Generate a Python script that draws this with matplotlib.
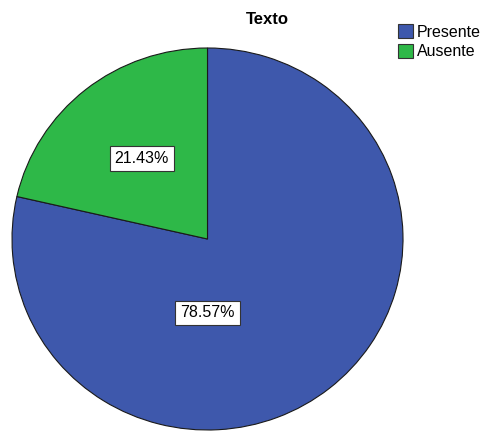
import matplotlib
matplotlib.use("Agg")
import matplotlib.pyplot as plt
from matplotlib.patches import Patch

plt.rcParams['font.family'] = ['Liberation Sans', 'DejaVu Sans']

categories = ["Presente", "Ausente"]
values = [78.57, 21.43]
colors = ["#3E58AC", "#2EB848"]
title = "Texto"

fig = plt.figure(figsize=(4.8, 4.32), dpi=100)
ax = fig.add_axes([12/480, 2/432, 391/480, 382/432])

wedges, texts, autotexts = ax.pie(
    values, colors=colors, startangle=90, counterclock=False,
    autopct=lambda p: f"{p:.2f}%", pctdistance=0.54,
    wedgeprops=dict(edgecolor="#1a1a1a", linewidth=0.8),
    textprops=dict(fontsize=11.5, color="black"),
)
for t in autotexts:
    t.set_bbox(dict(boxstyle="square,pad=0.3", facecolor="white",
                    edgecolor="#333333", linewidth=0.8))
# SPSS puts the largest slice label below the centre
autotexts[0].set_position((0, -0.387))

ax.set_aspect('auto')
ax.set_xlim(-1, 1)
ax.set_ylim(-1, 1)
ax.axis('off')

fig.text(267/480, 1 - 19/432, title, ha='center', va='center',
         fontsize=12, fontweight='bold')

handles = [Patch(facecolor=c, edgecolor="#333333", linewidth=0.8) for c in colors]
fig.legend(handles, categories, loc='upper left',
           bbox_to_anchor=(398/480, 1 - 24/432), frameon=False,
           fontsize=11.5, handlelength=0.95, handleheight=1.0,
           handletextpad=0.25, labelspacing=0.25, borderpad=0,
           borderaxespad=0)

fig.savefig("out.png", dpi=100)
